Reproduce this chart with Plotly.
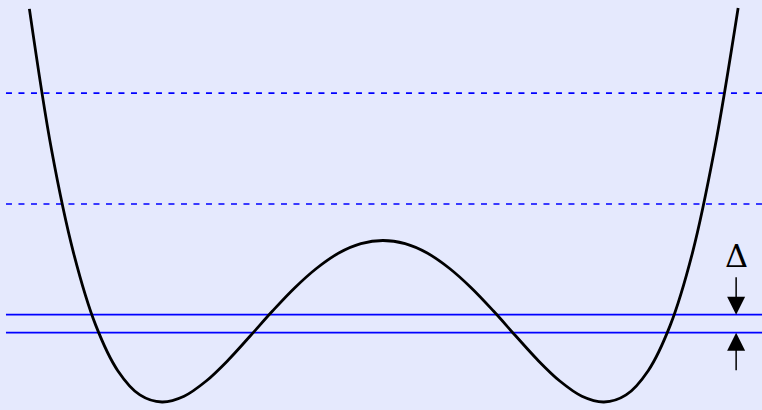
import plotly.graph_objects as go

# Double-well potential (minima at x=±1, barrier height 1)
x_pos = [-1.6, -1.5, -1.4, -1.3, -1.2, -1.1, -1.0, -0.9, -0.8, -0.7, -0.6, -0.5, -0.4, -0.3, -0.2, -0.1,
         0.0, 0.1, 0.2, 0.3, 0.4, 0.5, 0.6, 0.7, 0.8, 0.9, 1.0, 1.1, 1.2, 1.3, 1.4, 1.5, 1.607]
potential = [2.434, 1.563, 0.922, 0.476, 0.194, 0.044, 0.0, 0.036, 0.130, 0.260, 0.410, 0.563, 0.706, 0.828, 0.922, 0.980,
             1.0, 0.980, 0.922, 0.828, 0.706, 0.563, 0.410, 0.260, 0.130, 0.036, 0.0, 0.044, 0.194, 0.476, 0.922, 1.563, 2.44]

# Energy levels
dashed_levels = [1.913, 1.226]
solid_levels = [0.541, 0.429]
level_span = [-1.706, 1.9]

delta_label = "Δ"
arrow_x = 1.598

fig = go.Figure()

for lv in dashed_levels:
    fig.add_trace(go.Scatter(x=level_span, y=[lv, lv], mode="lines",
                             line=dict(color="#0000ff", width=1.7, dash="6px,6.5px"),
                             hoverinfo="skip", showlegend=False))
for lv in solid_levels:
    fig.add_trace(go.Scatter(x=level_span, y=[lv, lv], mode="lines",
                             line=dict(color="#0000ff", width=1.7),
                             hoverinfo="skip", showlegend=False))

fig.add_trace(go.Scatter(x=x_pos, y=potential, mode="lines",
                         line=dict(color="black", width=2.8, shape="spline", smoothing=1.0),
                         hoverinfo="skip", showlegend=False))

# Delta arrows pointing at the two solid levels
fig.add_annotation(x=arrow_x, y=solid_levels[0], xref="x", yref="y", ax=0, ay=-39,
                   showarrow=True, arrowhead=2, arrowsize=2.4, arrowwidth=1.5, arrowcolor="black",
                   text="", standoff=0)
fig.add_annotation(x=arrow_x, y=solid_levels[1], xref="x", yref="y", ax=0, ay=39,
                   showarrow=True, arrowhead=2, arrowsize=2.4, arrowwidth=1.5, arrowcolor="black",
                   text="", standoff=0)
fig.add_annotation(x=arrow_x, y=0.905, xref="x", yref="y", text=delta_label, showarrow=False,
                   font=dict(family="DejaVu Serif", size=32, color="black"),
                   xanchor="center", yanchor="middle")

fig.update_layout(
    width=762, height=410,
    margin=dict(l=0, r=0, t=0, b=0),
    paper_bgcolor="#e5e9fd", plot_bgcolor="#e5e9fd",
    xaxis=dict(range=[-1.733, 1.715], visible=False, fixedrange=True),
    yaxis=dict(range=[-0.0495, 2.489], visible=False, fixedrange=True),
    showlegend=False,
)

fig.write_html("out.html", config={"displayModeBar": False},
               post_script="document.body.style.margin='0';document.body.style.padding='0';document.body.style.overflow='hidden';")
